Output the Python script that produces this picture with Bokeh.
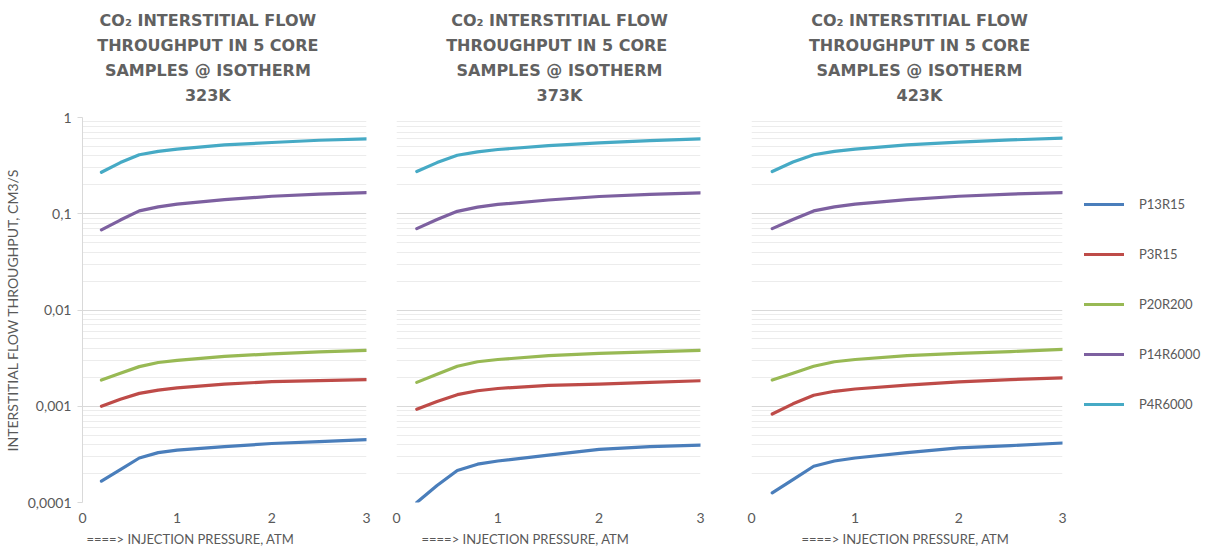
from bokeh.plotting import figure
from bokeh.models import Range1d, FixedTicker, Legend, LegendItem
from bokeh.layouts import row, column
from bokeh.core.properties import value
from bokeh.embed import file_html
from bokeh.resources import INLINE

# ---------------- data ----------------
pressure = [0.2, 0.4, 0.6, 0.8, 1.0, 1.5, 2.0, 2.5, 3.0]
series_names = ["P13R15", "P3R15", "P20R200", "P14R6000", "P4R6000"]
series_colors = ["#4a7ebb", "#be4b48", "#98b954", "#7d60a0", "#46aac5"]

titles = [
    ["CO\u2082 INTERSTITIAL FLOW", "THROUGHPUT IN 5 CORE", "SAMPLES @ ISOTHERM", "323K"],
    ["CO\u2082 INTERSTITIAL FLOW", "THROUGHPUT  IN 5 CORE", "SAMPLES @ ISOTHERM", "373K"],
    ["CO\u2082 INTERSTITIAL FLOW", "THROUGHPUT IN 5 CORE", "SAMPLES @ ISOTHERM", "423K"],
]

# 323 K
t323_P13R15 = [0.000167, 0.00022, 0.00029, 0.00033, 0.00035, 0.00038, 0.00041, 0.00043, 0.00045]
t323_P3R15 = [0.00100, 0.00118, 0.00136, 0.00147, 0.00155, 0.00170, 0.00180, 0.00185, 0.00189]
t323_P20R200 = [0.00187, 0.00220, 0.00258, 0.00285, 0.00300, 0.00330, 0.00350, 0.00368, 0.00380]
t323_P14R6000 = [0.068, 0.086, 0.107, 0.118, 0.126, 0.140, 0.152, 0.160, 0.166]
t323_P4R6000 = [0.27, 0.34, 0.41, 0.445, 0.47, 0.52, 0.55, 0.58, 0.60]

# 373 K
t373_P13R15 = [0.000100, 0.000150, 0.000215, 0.000250, 0.00027, 0.00031, 0.000356, 0.00038, 0.000395]
t373_P3R15 = [0.00093, 0.00112, 0.00132, 0.00145, 0.00153, 0.00165, 0.00170, 0.00177, 0.00184]
t373_P20R200 = [0.00177, 0.00215, 0.00260, 0.00290, 0.00306, 0.00335, 0.00354, 0.00368, 0.00380]
t373_P14R6000 = [0.070, 0.087, 0.106, 0.117, 0.125, 0.139, 0.151, 0.159, 0.165]
t373_P4R6000 = [0.275, 0.34, 0.405, 0.44, 0.465, 0.51, 0.545, 0.575, 0.60]

# 423 K
t423_P13R15 = [0.000126, 0.000173, 0.000238, 0.00027, 0.00029, 0.00033, 0.00037, 0.00039, 0.000415]
t423_P3R15 = [0.00083, 0.00106, 0.00130, 0.00143, 0.00151, 0.00166, 0.00179, 0.00189, 0.00197]
t423_P20R200 = [0.00187, 0.00220, 0.00260, 0.00290, 0.00306, 0.00335, 0.00354, 0.00370, 0.00390]
t423_P14R6000 = [0.070, 0.087, 0.107, 0.118, 0.126, 0.140, 0.152, 0.160, 0.166]
t423_P4R6000 = [0.275, 0.345, 0.41, 0.445, 0.47, 0.52, 0.555, 0.585, 0.61]

panels = [
    [t323_P13R15, t323_P3R15, t323_P20R200, t323_P14R6000, t323_P4R6000],
    [t373_P13R15, t373_P3R15, t373_P20R200, t373_P14R6000, t373_P4R6000],
    [t423_P13R15, t423_P3R15, t423_P20R200, t423_P14R6000, t423_P4R6000],
]

y_ticks = [0.0001, 0.001, 0.01, 0.1, 1]
y_tick_labels = ["0,0001", "0,001", "0,01", "0,1", "1"]
x_ticks = [0, 1, 2, 3]
x_label = "====> INJECTION PRESSURE, ATM"
y_label = "INTERSTITIAL FLOW THROUGHPUT, CM3/S"

FONT = "Lato"
TFONT = "DejaVu Sans"
GRAY = "#595959"
TITLE_H = 107
PLOT_H = 422
XLAB_H = 18
B_TOP = 10
B_BOTTOM = 27

minor = []
for d in [0.0001, 0.001, 0.01, 0.1]:
    for k in range(2, 10):
        minor.append(k * d)

# per panel: width, border_left, border_right, title centre (frame px), x-label start (frame px)
geom = [(377, 76, 11, 128, 4), (345, 19, 22, 163, 25), (345, 29, 5, 168, 50)]
title_baselines = [19.5, 44.5, 69.5, 94.5]


def blank(w, h, bl, br, fw, fh):
    f = figure(width=w, height=h, output_backend="svg", toolbar_location=None,
               x_axis_location=None, y_axis_location=None,
               min_border_left=bl, min_border_right=br, min_border_top=0, min_border_bottom=0,
               x_range=Range1d(0, fw), y_range=Range1d(fh, 0))
    f.outline_line_color = None
    f.grid.visible = False
    return f


cols = []
for i in range(3):
    w, bl, br, tcx, xls = geom[i]
    fw = w - bl - br

    # title block
    tf = blank(w, TITLE_H, bl, br, fw, TITLE_H)
    tf.text(x=[tcx] * 4, y=title_baselines, text=titles[i],
            text_font=value(TFONT), text_font_size="16px", text_font_style="bold",
            text_color="#616161", text_align="center", text_baseline="alphabetic")

    # plot
    p = figure(width=w, height=PLOT_H, y_axis_type="log",
               x_range=Range1d(0, 3), y_range=Range1d(0.0001, 1),
               output_backend="svg", toolbar_location=None,
               min_border_left=bl, min_border_right=br,
               min_border_top=B_TOP, min_border_bottom=B_BOTTOM)
    p.outline_line_color = None
    p.background_fill_color = "white"
    p.border_fill_color = "white"

    p.xgrid.visible = False
    p.yaxis.ticker = FixedTicker(ticks=y_ticks, minor_ticks=minor)
    p.ygrid.grid_line_color = "#d9d9d9"
    p.ygrid.minor_grid_line_color = "#ececec"

    p.xaxis.ticker = FixedTicker(ticks=x_ticks)
    p.xaxis.axis_line_color = None
    p.xaxis.major_tick_line_color = None
    p.xaxis.minor_tick_line_color = None
    p.xaxis.major_tick_out = 0
    p.xaxis.major_tick_in = 0
    p.xaxis.minor_tick_out = 0
    p.xaxis.major_label_standoff = 10
    p.xaxis.major_label_text_font = FONT
    p.xaxis.major_label_text_font_size = "14px"
    p.xaxis.major_label_text_color = GRAY

    if i == 0:
        p.yaxis.major_label_overrides = {t: l for t, l in zip(y_ticks, y_tick_labels)}
        p.yaxis.axis_line_color = "#d9d9d9"
        p.yaxis.major_tick_line_color = "#d9d9d9"
        p.yaxis.major_tick_out = 5
        p.yaxis.major_tick_in = 0
        p.yaxis.minor_tick_line_color = None
        p.yaxis.major_label_standoff = 6
        p.yaxis.major_label_text_font = FONT
        p.yaxis.major_label_text_font_size = "14px"
        p.yaxis.major_label_text_color = GRAY
        p.yaxis.axis_label = y_label
        p.yaxis.axis_label_text_font = FONT
        p.yaxis.axis_label_text_font_size = "14px"
        p.yaxis.axis_label_text_font_style = "normal"
        p.yaxis.axis_label_text_color = GRAY
        p.yaxis.axis_label_standoff = 4
    else:
        p.yaxis.visible = False

    for name, color, vals in zip(series_names, series_colors, panels[i]):
        p.line(pressure, vals, line_color=color, line_width=3.2,
               line_cap="round", line_join="round")

    # x-axis title
    xf = blank(w, XLAB_H, bl, br, fw, XLAB_H)
    xf.text(x=[xls], y=[9.5], text=[x_label], text_font=value(FONT),
            text_font_size="13px", text_color=GRAY,
            text_align="left", text_baseline="middle")

    cols.append(column(tf, p, xf))

# legend column (its lines sit outside the visible range; only the legend shows)
LW = 150
lt = blank(LW, TITLE_H, 0, 0, LW, TITLE_H)
pl = figure(width=LW, height=PLOT_H, output_backend="svg", toolbar_location=None,
            x_axis_location=None, y_axis_location=None,
            min_border_left=0, min_border_right=0,
            min_border_top=B_TOP, min_border_bottom=B_BOTTOM,
            x_range=Range1d(10, 11), y_range=Range1d(10, 11))
pl.outline_line_color = None
pl.grid.visible = False
items = []
for name, color, vals in zip(series_names, series_colors, panels[2]):
    r = pl.line(pressure, vals, line_color=color, line_width=3.2, line_cap="round")
    items.append(LegendItem(label=name, renderers=[r]))
legend = Legend(items=items, location=(17, 88), orientation="vertical",
                glyph_width=40, glyph_height=20, spacing=30,
                label_standoff=15, padding=10, margin=0,
                border_line_color=None, background_fill_alpha=0,
                label_text_font=FONT, label_text_font_size="13px",
                label_text_color=GRAY)
pl.add_layout(legend)
lb = blank(LW, XLAB_H, 0, 0, LW, XLAB_H)
cols.append(column(lt, pl, lb))

layout = row(*cols)
open("out.html", "w").write(file_html(layout, INLINE))
